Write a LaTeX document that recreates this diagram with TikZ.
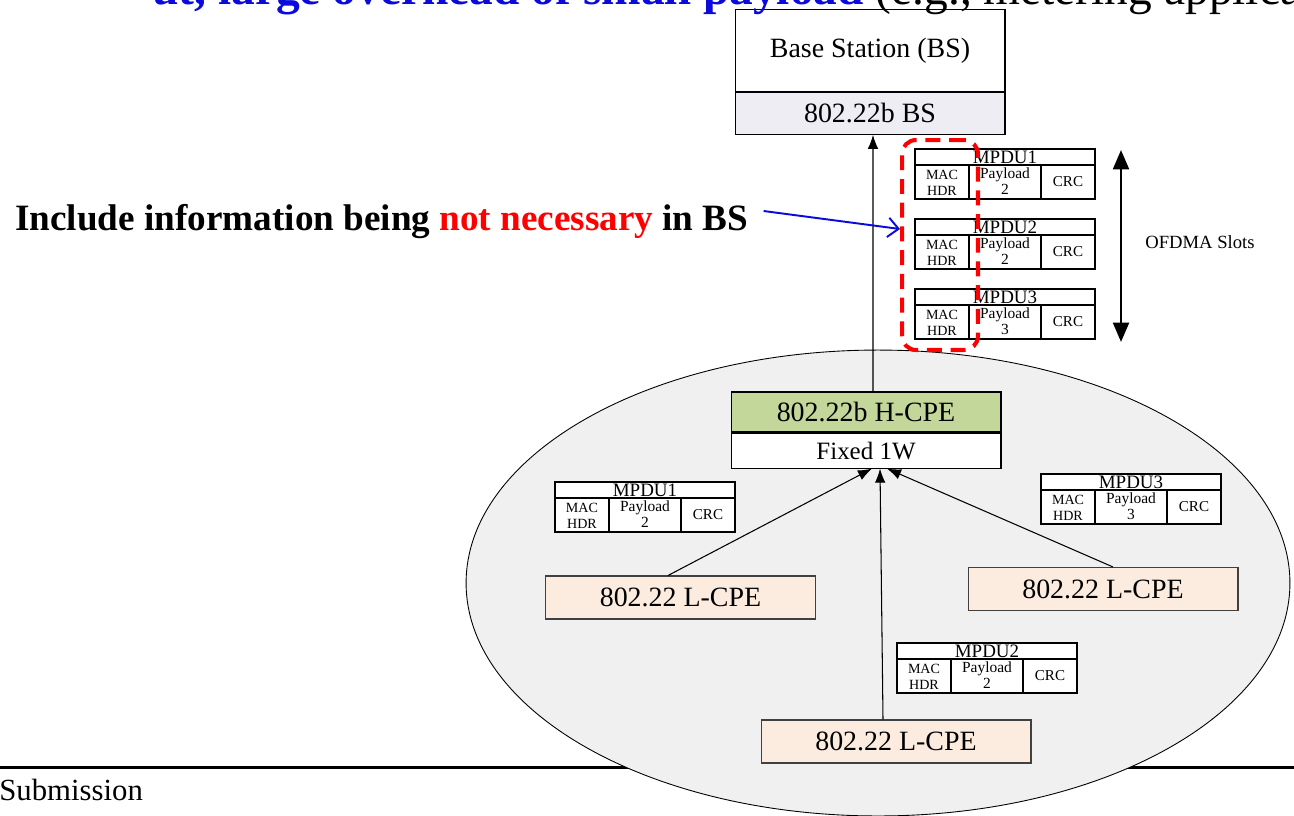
\documentclass[tikz,border=0pt]{standalone}
\usepackage{fontspec}
\usepackage{graphicx}
\setmainfont{Liberation Serif}
\usetikzlibrary{positioning,arrows.meta,shapes}

\definecolor{bsgray}{HTML}{EEEDF3}
\definecolor{hcpegreen}{HTML}{C4D79B}
\definecolor{lcpepeach}{HTML}{FCECE0}
\definecolor{cellgray}{HTML}{F0F0F0}
\definecolor{slideblue}{HTML}{0A0ADC}
\definecolor{notered}{HTML}{FF0000}

\tikzset{
    mpdutitle/.style={inner sep=0pt, font=\fontsize{10.8}{11}\selectfont},
    mpducell/.style={inner sep=0pt, align=center, font=\fontsize{8}{9}\selectfont},
    pics/mpdu/.style n args={2}{code={
        \draw[fill=white, line width=0.6pt] (0,0) rectangle (180,50)
            (0,16) -- (180,16) (54,16) -- (54,50) (126,16) -- (126,50);
        \node[mpdutitle] (-id) at (90,8.5) {MPDU#1};
        \node[mpducell] (-hdr) at (27,33.5) {MAC\\HDR};
        \node[mpducell, font=\fontsize{8.8}{9.4}\selectfont] (-pay) at (90,32) {Payload\\#2};
        \node[mpducell, font=\fontsize{8.6}{9}\selectfont] (-crc) at (153,33) {CRC};
    }}
}

\begin{document}
\begin{tikzpicture}[
    x=0.02cm, y=-0.02cm,
    node distance=0pt,
    hostbox/.style={draw, line width=0.6pt, minimum width=5.4cm, inner sep=0pt, font=\fontsize{15.9}{18}\selectfont},
    cpe/.style={hostbox, draw=black!75, fill=lcpepeach, minimum height=0.86cm},
    uplink/.style={-{Latex[length=8pt,width=6pt]}, line width=0.6pt}
]
\useasboundingbox (0,0) rectangle (1294,815);
\fill[white] (0,0) rectangle (1294,815);
\draw[line width=1.7pt] (0,767) -- (1294,767);
\node[ellipse, draw, fill=cellgray, line width=0.5pt, minimum width=16.48cm, minimum height=9.32cm] (cell) at (878,583) {};

\node[hostbox, minimum height=1.63cm] (bs) at (870,50.5) {Base Station (BS)};
\node[hostbox, fill=bsgray, minimum height=0.84cm, below=of bs] (bsstd) {802.22b BS};

\node[hostbox, fill=hcpegreen, minimum height=0.8cm] (hcpe) at (866,412) {802.22b H-CPE};
\node[hostbox, fill=white, minimum height=0.7cm, below=of hcpe, font=\fontsize{14.2}{16}\selectfont] (hcpepow) {Fixed 1W};

\node[cpe] (lcpe1) at (680.5,597.5) {802.22 L-CPE};
\node[cpe] (lcpe2) at (896,741.5) {802.22 L-CPE};
\node[cpe] (lcpe3) at (1103,589) {802.22 L-CPE};

\draw[uplink] ([xshift=0.14cm]hcpe.north) -- ([xshift=0.06cm]bsstd.south);
\draw[uplink] ([xshift=-0.25cm]lcpe1.north) -- ([xshift=0.12cm]hcpepow.south);
\draw[uplink] ([xshift=-0.26cm]lcpe2.north) -- ([xshift=0.28cm]hcpepow.south);
\draw[uplink] ([xshift=0.2cm]lcpe3.north) -- ([xshift=0.42cm]hcpepow.south);

\pic (up1) at (915,149) {mpdu={1}{2}};
\pic (up2) at (915,219) {mpdu={2}{2}};
\pic (up3) at (915,289) {mpdu={3}{3}};
\pic (dn1) at (555,482) {mpdu={1}{2}};
\pic (dn2) at (897,643) {mpdu={2}{2}};
\pic (dn3) at (1041,474) {mpdu={3}{3}};

\node[draw=notered, dash pattern=on 8.5pt off 5pt, line width=2.3pt, rounded corners=0.28cm, minimum width=1.52cm, minimum height=4.2cm] (extra) at (940,245) {};

\node[anchor=west, inner xsep=0.3cm, inner ysep=0pt] (note) at (0,222) {\resizebox{14.66cm}{!}{\fontsize{22}{26}\selectfont\bfseries Include information being \textcolor{notered}{not necessary} in BS}};
\draw[slideblue, line width=1.1pt, -{Straight Barb[length=6pt,width=11pt]}] ([yshift=0.22cm]note.east) -- ([yshift=0.32cm]extra.west);

\coordinate (slottop) at (1121,150);
\coordinate (slotbot) at (1121,342);
\draw[line width=1.5pt, {Triangle[length=11pt,width=9pt]}-{Triangle[length=11pt,width=9pt]}] (slottop) -- (slotbot);
\node[anchor=west, inner sep=0pt, font=\fontsize{10.6}{12}\selectfont] (slots) at (1145,242) {OFDMA Slots};

\node[anchor=base west, inner sep=0pt, font=\fontsize{17.5}{20}\selectfont] (footer) at (-1,800) {Submission};
\node[anchor=base west, inner sep=0pt, font=\fontsize{27}{30}\selectfont] (slidetext) at (152,4) {\textcolor{slideblue}{\bfseries ut, large overhead of small payload} (e.g., metering applicat};
\end{tikzpicture}
\end{document}
